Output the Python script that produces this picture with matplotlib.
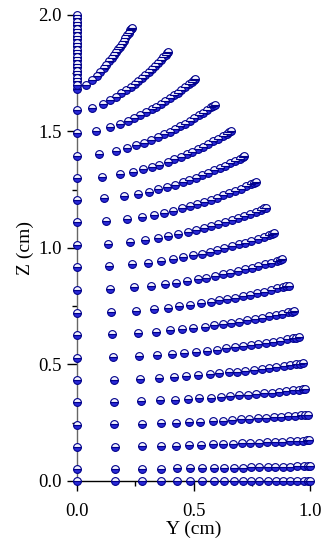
import numpy as np
import matplotlib
matplotlib.use("Agg")
import matplotlib.pyplot as plt
from matplotlib.ticker import MultipleLocator

# mesh rows: start height on the axis (Y=0) and where each row meets the outer boundary
row_start_z = [0.0, 0.0515, 0.147, 0.242, 0.338, 0.433, 0.529, 0.627, 0.722, 0.820,
               0.918, 1.014, 1.110, 1.207, 1.300, 1.396, 1.493, 1.590, 1.682]
row_end_y = [1.0, 0.9995, 0.996, 0.990, 0.980, 0.968, 0.951, 0.931, 0.908, 0.880,
             0.847, 0.810, 0.767, 0.718, 0.661, 0.591, 0.507, 0.392, 0.235]
row_end_z = [0.0, 0.0635, 0.175, 0.285, 0.395, 0.505, 0.616, 0.728, 0.838, 0.950,
             1.062, 1.172, 1.282, 1.393, 1.500, 1.613, 1.724, 1.840, 1.944]
# bend of each row (how late it rises toward the boundary)
row_bend = [2.0] * 15 + [1.9, 1.8, 1.7, 1.5]

# spacing of nodes along a row (fraction of row length)
node_frac = [0.0, 0.162, 0.28, 0.362, 0.428, 0.484, 0.535, 0.588, 0.631, 0.672, 0.711,
             0.747, 0.783, 0.819, 0.852, 0.884, 0.916, 0.946, 0.973, 0.99, 1.0]

# packed nodes on the axis above the top row
top_col_z = [1.700, 1.715, 1.730, 1.745, 1.760, 1.775, 1.790, 1.805, 1.820, 1.835, 1.850,
             1.865, 1.880, 1.895, 1.910, 1.925, 1.940, 1.955, 1.970, 1.985, 2.000]

plt.rcParams['font.family'] = ['Liberation Serif', 'DejaVu Serif']

fig = plt.figure(figsize=(3.35, 5.5), dpi=100)
ax = fig.add_axes([0.2299, 0.1255, 0.6955, 0.8478])

mk = dict(linestyle='none', marker='o', ms=5.6, mew=0.8, fillstyle='bottom',
          markerfacecolor='#2a2ad8', markerfacecoloralt='#f4f4ff',
          markeredgecolor='#00008b', clip_on=False, zorder=3)

f = np.array(node_frac)
for z0, ye, ze, p in zip(row_start_z, row_end_y, row_end_z, row_bend):
    ys = f * ye
    zs = z0 + (ze - z0) * f ** p
    ax.plot(ys, zs, **mk)

ax.plot(np.zeros(len(top_col_z)), top_col_z, **mk)

ax.set_xlim(0, 1.0)
ax.set_ylim(0, 2.0)
ax.spines['top'].set_visible(False)
ax.spines['right'].set_visible(False)
ax.spines['left'].set_color('#666666')
ax.spines['bottom'].set_color('black')
ax.spines['left'].set_linewidth(1.0)
ax.spines['bottom'].set_linewidth(1.0)

ax.xaxis.set_major_locator(MultipleLocator(0.5))
ax.xaxis.set_minor_locator(MultipleLocator(0.25))
ax.yaxis.set_major_locator(MultipleLocator(0.5))
ax.yaxis.set_minor_locator(MultipleLocator(0.25))
ax.xaxis.set_major_formatter(lambda v, pos: f"{v:.1f}")
ax.yaxis.set_major_formatter(lambda v, pos: f"{v:.1f}")
ax.tick_params(which='major', direction='out', length=7, width=1.0, labelsize=13.5)
ax.tick_params(axis='x', which='major', pad=9)
ax.tick_params(axis='y', which='major', pad=4)
ax.tick_params(which='minor', direction='out', length=3.5, width=1.0)

ax.set_xlabel("Y (cm)", fontsize=14, labelpad=0)
ax.set_ylabel("Z (cm)", fontsize=14, labelpad=3)

fig.savefig("out.png", dpi=100)
